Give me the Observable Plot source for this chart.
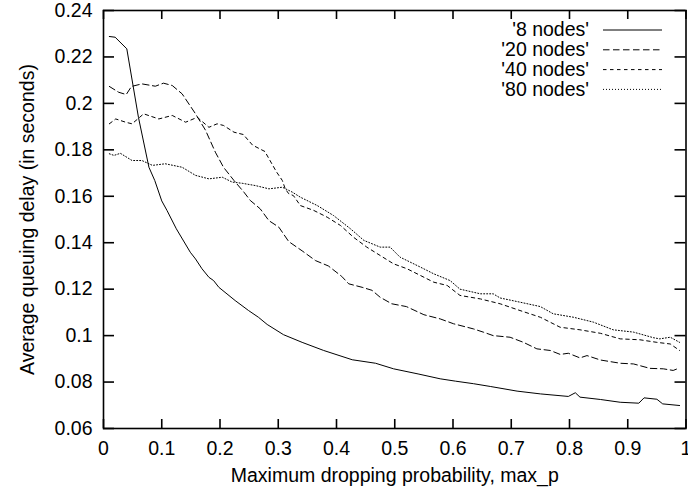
<!DOCTYPE html>
<html>
<head>
<meta charset="utf-8">
<script src="https://cdn.jsdelivr.net/npm/d3@7"></script>
<script src="https://cdn.jsdelivr.net/npm/@observablehq/plot@0.6"></script>
<style>
  html, body { margin: 0; padding: 0; background: #fff; }
  #chart { width: 688px; height: 497px; }
  svg { display: block; }
</style>
</head>
<body>
<div id="chart"></div>
<script>
// ---- tick values and labels ----
const xTicks = [0, 0.1, 0.2, 0.3, 0.4, 0.5, 0.6, 0.7, 0.8, 0.9, 1];
const xTickLabels = ["0", "0.1", "0.2", "0.3", "0.4", "0.5", "0.6", "0.7", "0.8", "0.9", "1"];
const yTicks = [0.06, 0.08, 0.1, 0.12, 0.14, 0.16, 0.18, 0.2, 0.22, 0.24];
const yTickLabels = ["0.06", "0.08", "0.1", "0.12", "0.14", "0.16", "0.18", "0.2", "0.22", "0.24"];
const xTitle = "Maximum dropping probability, max_p";
const yTitle = "Average queuing delay (in seconds)";

// ---- series ----
const seriesNames = ["'8 nodes'", "'20 nodes'", "'40 nodes'", "'80 nodes'"];

const nodes8X = [0.01,0.02,0.04,0.06,0.078,0.088,0.1,0.109,0.125,0.149,0.158,0.169,0.181,0.189,0.198,0.226,0.249,0.266,0.281,0.309,0.341,0.378,0.427,0.467,0.498,0.54,0.578,0.604,0.635,0.664,0.71,0.75,0.798,0.81,0.818,0.853,0.887,0.919,0.928,0.95,0.96,0.989];
const nodes8Y = [0.2288,0.2285,0.2235,0.194,0.1725,0.1668,0.158,0.1539,0.146,0.1359,0.133,0.1288,0.1251,0.1237,0.1208,0.1151,0.1108,0.1079,0.1048,0.1004,0.0971,0.0936,0.0896,0.0881,0.0857,0.0835,0.0814,0.0804,0.0793,0.0781,0.0761,0.0749,0.0738,0.0754,0.0735,0.0725,0.0713,0.0709,0.0732,0.0726,0.0706,0.0699];

const nodes20X = [0.01,0.026,0.039,0.048,0.066,0.089,0.103,0.118,0.135,0.158,0.175,0.192,0.206,0.224,0.241,0.252,0.269,0.284,0.301,0.318,0.341,0.364,0.386,0.409,0.421,0.444,0.461,0.475,0.495,0.52,0.55,0.578,0.601,0.635,0.652,0.669,0.698,0.721,0.744,0.767,0.784,0.798,0.818,0.83,0.853,0.887,0.91,0.938,0.961,0.978,0.989];
const nodes20Y = [0.2073,0.2048,0.2038,0.2073,0.2084,0.2074,0.2087,0.2077,0.2041,0.1955,0.1885,0.179,0.1725,0.1668,0.1618,0.1582,0.1546,0.1495,0.1467,0.1405,0.1365,0.1323,0.13,0.1255,0.1223,0.1208,0.1195,0.1165,0.1137,0.1125,0.109,0.1072,0.1051,0.1029,0.1015,0.1,0.0993,0.0971,0.0943,0.0936,0.0919,0.0924,0.0904,0.0914,0.0895,0.0881,0.0878,0.0859,0.0857,0.085,0.0861];

const nodes40X = [0.01,0.021,0.038,0.049,0.069,0.095,0.118,0.141,0.161,0.181,0.195,0.206,0.224,0.24,0.256,0.277,0.289,0.297,0.307,0.312,0.318,0.326,0.338,0.361,0.384,0.407,0.429,0.452,0.475,0.498,0.521,0.544,0.567,0.59,0.612,0.647,0.681,0.715,0.75,0.784,0.818,0.853,0.887,0.921,0.95,0.973,0.989];
const nodes40Y = [0.1912,0.1933,0.1919,0.1912,0.1955,0.1933,0.1948,0.1919,0.194,0.1897,0.1912,0.1905,0.1876,0.1866,0.182,0.1793,0.174,0.1705,0.1668,0.1632,0.1611,0.1603,0.156,0.1539,0.151,0.1474,0.1424,0.1381,0.1345,0.1309,0.1288,0.1259,0.123,0.1216,0.1173,0.1158,0.1137,0.1108,0.1079,0.1036,0.1025,0.101,0.0986,0.0982,0.0971,0.0964,0.0936];

const nodes80X = [0.01,0.018,0.029,0.049,0.066,0.084,0.106,0.135,0.158,0.181,0.204,0.221,0.238,0.261,0.284,0.307,0.324,0.338,0.367,0.395,0.424,0.447,0.475,0.492,0.509,0.544,0.567,0.595,0.612,0.647,0.669,0.681,0.715,0.75,0.772,0.807,0.841,0.875,0.91,0.944,0.955,0.973,0.989];
const nodes80Y = [0.1783,0.1776,0.1785,0.1754,0.1754,0.1733,0.174,0.1725,0.169,0.1675,0.1682,0.1661,0.1656,0.1646,0.1632,0.1639,0.1618,0.1596,0.156,0.1517,0.146,0.141,0.1381,0.1381,0.1338,0.1295,0.1266,0.1237,0.12,0.118,0.118,0.1162,0.1144,0.1125,0.1094,0.1079,0.1058,0.1025,0.1015,0.0991,0.0986,0.0993,0.0971];

const seriesX = [nodes8X, nodes20X, nodes40X, nodes80X];
const seriesY = [nodes8Y, nodes20Y, nodes40Y, nodes80Y];
const dashes = [null, "6.5,3.5", "3.5,3.5", "1,2"];

// ---- layout ----
const W = 688, H = 497;
const mL = 103, mR = 2.5, mT = 10, mB = 69;
const plotW = W - mL - mR, plotH = H - mT - mB;
const font = "'Liberation Sans', Arial, Helvetica, sans-serif";
const fs = 19.5;

const rows = seriesNames.map((name, s) =>
  seriesX[s].map((x, i) => ({x, y: seriesY[s][i]}))
);

const lineMarks = rows.map((data, s) =>
  Plot.line(data, {x: "x", y: "y", stroke: "#000", strokeWidth: 1,
    strokeDasharray: dashes[s] || undefined, curve: "linear"})
);

const chart = Plot.plot({
  width: W, height: H,
  marginLeft: mL, marginRight: mR, marginTop: mT, marginBottom: mB,
  style: {fontFamily: font, fontSize: fs + "px", color: "#000", background: "#fff", overflow: "visible"},
  x: {domain: [0, 1]},
  y: {domain: [0.06, 0.24]},
  marks: [
    ...lineMarks,
    Plot.frame({stroke: "#000", strokeWidth: 1.6}),
    // inward ticks on all four sides
    Plot.tickX(xTicks, {x: d => d, insetTop: plotH - 9, stroke: "#000", strokeWidth: 1.6}),
    Plot.tickX(xTicks, {x: d => d, insetBottom: plotH - 9, stroke: "#000", strokeWidth: 1.6}),
    Plot.tickY(yTicks, {y: d => d, insetRight: plotW - 11, stroke: "#000", strokeWidth: 1.6}),
    Plot.tickY(yTicks, {y: d => d, insetLeft: plotW - 11, stroke: "#000", strokeWidth: 1.6}),
    Plot.axisX(xTicks, {tickSize: 0, tickPadding: 13, label: null,
      tickFormat: d => xTickLabels[xTicks.indexOf(d)], fontSize: fs, fontVariant: "normal"}),
    Plot.axisY(yTicks, {tickSize: 0, tickPadding: 11, label: null,
      tickFormat: d => yTickLabels[yTicks.indexOf(d)], fontSize: fs, fontVariant: "normal"}),
    Plot.text([xTitle], {text: d => d, frameAnchor: "bottom", dy: 47.5, lineAnchor: "middle", fontSize: fs}),
    Plot.text([yTitle], {text: d => d, frameAnchor: "left", textAnchor: "middle", dx: -76, rotate: -90, lineAnchor: "middle", fontSize: fs})
  ]
});

document.getElementById("chart").appendChild(chart);

// ---- legend (top right, inside the frame) ----
const svg = d3.select(chart);
const lg = svg.append("g").attr("font-family", font).attr("font-size", fs);
seriesNames.forEach((name, i) => {
  const cy = 30 + 19.8 * i;
  lg.append("text").attr("x", 589).attr("y", cy + 6.3).attr("text-anchor", "end")
    .attr("fill", "#000").text(name);
  lg.append("line").attr("x1", 603).attr("x2", 662).attr("y1", cy).attr("y2", cy)
    .attr("stroke", "#000").attr("stroke-width", 1)
    .attr("stroke-dasharray", dashes[i] || null);
});
</script>
</body>
</html>
